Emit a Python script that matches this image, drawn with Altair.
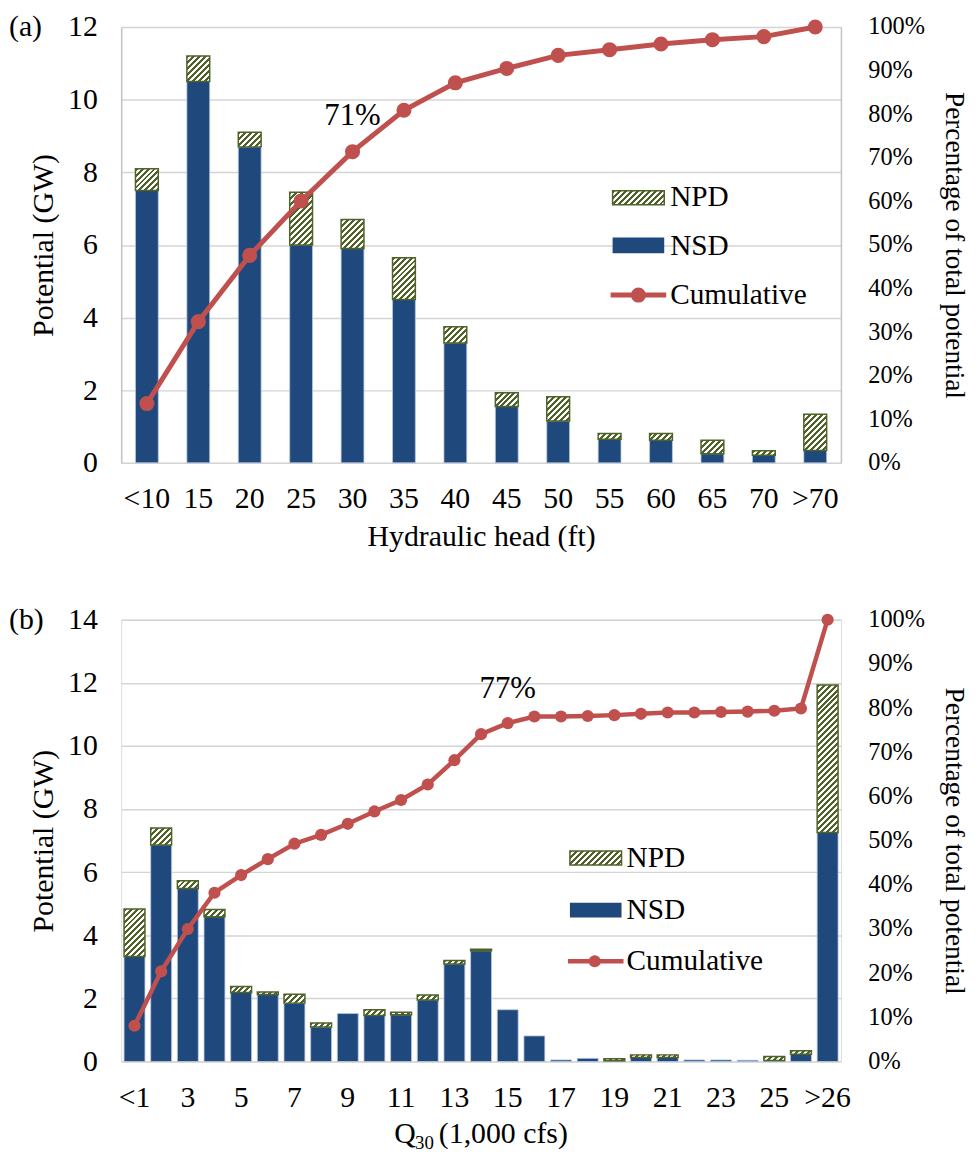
import altair as alt
import pandas as pd

FONT = "Liberation Serif"
BLUE = "#1f497d"
GREEN = "#4f6228"
RED = "#c0504d"
GRID = "#d4d4d4"
FRAME = "#c4c4c4"

# ---------------- data: panel (a) hydraulic head ----------------
head_cats = ["<10", "15", "20", "25", "30", "35", "40", "45", "50", "55", "60", "65", "70", ">70"]
head_nsd = [7.5, 10.5, 8.7, 6.0, 5.9, 4.5, 3.3, 1.55, 1.15, 0.65, 0.62, 0.25, 0.21, 0.34]
head_total = [8.1, 11.2, 9.1, 7.45, 6.7, 5.65, 3.75, 1.93, 1.82, 0.81, 0.81, 0.62, 0.33, 1.34]
head_cum = [13.6, 32.4, 47.6, 60.1, 71.4, 80.9, 87.2, 90.5, 93.5, 94.8, 96.1, 97.1, 97.8, 100.0]

# ---------------- data: panel (b) Q30 flow ----------------
flow_cats = ["<1", "2", "3", "4", "5", "6", "7", "8", "9", "10", "11", "12", "13", "14",
             "15", "16", "17", "18", "19", "20", "21", "22", "23", "24", "25", "26", ">26"]
flow_nsd = [3.33, 6.86, 5.48, 4.59, 2.19, 2.12, 1.85, 1.09, 1.52, 1.46, 1.48, 1.95, 3.09, 3.51,
            1.64, 0.81, 0.05, 0.10, 0.02, 0.13, 0.13, 0.05, 0.05, 0.04, 0.03, 0.23, 7.26]
flow_total = [4.83, 7.40, 5.73, 4.82, 2.38, 2.20, 2.13, 1.22, 1.52, 1.64, 1.56, 2.11, 3.20, 3.56,
              1.64, 0.81, 0.05, 0.10, 0.09, 0.21, 0.21, 0.05, 0.05, 0.04, 0.16, 0.34, 11.93]
flow_cum = [8.1, 20.4, 30.0, 38.2, 42.2, 45.8, 49.3, 51.3, 53.8, 56.6, 59.2, 62.7, 68.2, 74.1,
            76.6, 78.1, 78.1, 78.2, 78.4, 78.7, 79.0, 79.0, 79.1, 79.2, 79.4, 79.9, 100.0]
flow_ticks = ["<1", "3", "5", "7", "9", "11", "13", "15", "17", "19", "21", "23", "25", ">26"]

W = 725
TICK = 30       # left / bottom tick labels
TITLE = 30      # left / bottom titles
RTICK = 24.5    # right-axis tick labels
RTITLE = 27.5   # right-axis title
LEG = 29.5


def hatch(w, h, period=6.0, green_frac=0.5):
    w = max(w, 0.5)
    h = max(h, 0.5)
    c = (w + h) / (w * w + h * h)
    n = max((w + h) / period, 1.0)
    stops = []
    k = 0
    while k < n:
        a = min(k / n, 1.0)
        b = min((k + green_frac) / n, 1.0)
        d = min((k + 1) / n, 1.0)
        stops.extend([
            {"offset": a, "color": GREEN},
            {"offset": b, "color": GREEN},
            {"offset": b, "color": "#ffffff"},
            {"offset": d, "color": "#ffffff"},
        ])
        k += 1
    return {"gradient": "linear", "x1": 0, "y1": 0, "x2": c * w, "y2": c * h, "stops": stops}


one = pd.DataFrame({"k": [0]})


def vtext(txt, x, y, size=LEG, align="left", baseline="middle"):
    return alt.Chart(one).mark_text(
        font=FONT, fontSize=size, align=align, baseline=baseline, color="black"
    ).encode(x=alt.value(x), y=alt.value(y), text=alt.value(txt))


def panel(cats, nsd, total, cum, ymax, H, pin, tag, xtitle, xvalues, frame,
          ann_cat, ann_val, ann_text, ann_dy, leg, line_w, pt_size, right_title, extra=()):
    df = pd.DataFrame({"cat": cats, "nsd": nsd, "total": total, "cum": [v / 100 for v in cum]})
    xscale = alt.Scale(domain=cats, paddingInner=pin, paddingOuter=pin / 2)
    step = W / len(cats)
    bw = step * (1 - pin)

    xaxis_kw = dict(labelAngle=0, ticks=False, tickSize=0, domain=False, labelFont=FONT,
                    labelFontSize=TICK, labelColor="black", labelPadding=21, labelOverlap=False,
                    titleFont=FONT, titleFontSize=TITLE, titleFontWeight="normal",
                    titleColor="black", titlePadding=8, grid=False)
    if xvalues is not None:
        xaxis_kw["values"] = xvalues
    xaxis = alt.Axis(title=xtitle if xtitle else None, **xaxis_kw)

    def xenc():
        return alt.X("cat:N", scale=xscale, axis=xaxis, sort=cats)

    left_axis = alt.Axis(title="Potential (GW)", values=list(range(0, ymax + 1, 2)), grid=True,
                         gridColor=GRID, gridWidth=1.5, domain=frame, domainColor=FRAME,
                         domainWidth=1.5, ticks=False, tickSize=0, labelFont=FONT,
                         labelFontSize=TICK, labelColor="black", labelPadding=24,
                         titleFont=FONT, titleFontSize=TITLE, titleFontWeight="normal",
                         titleColor="black", titlePadding=9)
    right_axis = alt.Axis(title=right_title, orient="right", format=".0%",
                          values=[i / 10 for i in range(11)], grid=False, domain=frame,
                          domainColor=FRAME, domainWidth=1.5, ticks=False, tickSize=0,
                          labelFont=FONT, labelFontSize=RTICK, labelColor="black", labelPadding=27,
                          titleFont=FONT, titleFontSize=RTITLE, titleFontWeight="normal",
                          titleColor="black", titlePadding=15)

    yscale = alt.Scale(domain=[0, ymax], nice=False, zero=True)
    nsd_bar = alt.Chart(df).mark_bar(color=BLUE, stroke="#b8c8e0", strokeWidth=0.8).encode(
        x=xenc(), y=alt.Y("nsd:Q", scale=yscale, axis=left_axis))
    npd_bars = []
    for c, a, b in zip(cats, nsd, total):
        d = b - a
        if d <= 0.001:
            continue
        h = d * H / ymax
        npd_bars.append(
            alt.Chart(df).transform_filter(alt.datum.cat == c)
            .mark_bar(fill=hatch(bw, h), stroke=GREEN, strokeWidth=1.5)
            .encode(x=xenc(), y=alt.Y("total:Q", scale=yscale, axis=left_axis), y2="nsd:Q"))
    bars = alt.layer(nsd_bar, *npd_bars)

    cscale = alt.Scale(domain=[0, 1], nice=False, zero=True)
    line = alt.Chart(df).mark_line(
        color=RED, strokeWidth=line_w,
        point=alt.OverlayMarkDef(filled=True, fill=RED, color=RED, size=pt_size, opacity=1)
    ).encode(x=xenc(), y=alt.Y("cum:Q", scale=cscale, axis=right_axis))
    ann_df = pd.DataFrame({"cat": [ann_cat], "cum": [ann_val / 100], "label": [ann_text]})
    ann = alt.Chart(ann_df).mark_text(font=FONT, fontSize=31, dy=ann_dy, baseline="alphabetic",
                                       align="center", color="black").encode(
        x=xenc(), y=alt.Y("cum:Q", scale=cscale, axis=right_axis), text="label:N")
    cumlayer = alt.layer(line, ann)

    sx0, sx1, ny0, ny1, sy0, sy1, ly, lx0, lx1, dotx, tx, tys = leg
    legend = [
        alt.Chart(one).mark_rect(fill=hatch(sx1 - sx0, ny1 - ny0), stroke=GREEN, strokeWidth=1.5)
        .encode(x=alt.value(sx0), x2=alt.value(sx1), y=alt.value(ny0), y2=alt.value(ny1)),
        alt.Chart(one).mark_rect(fill=BLUE).encode(
            x=alt.value(sx0), x2=alt.value(sx1), y=alt.value(sy0), y2=alt.value(sy1)),
        alt.Chart(one).mark_rule(color=RED, strokeWidth=line_w).encode(
            x=alt.value(lx0), x2=alt.value(lx1), y=alt.value(ly)),
        alt.Chart(one).mark_point(filled=True, color=RED, size=pt_size, opacity=1).encode(
            x=alt.value(dotx), y=alt.value(ly)),
        vtext("NPD", tx, tys[0]),
        vtext("NSD", tx, tys[1]),
        vtext("Cumulative", tx, tys[2]),
    ]
    return alt.layer(bars, cumlayer, *legend, vtext(tag, -113, 0, size=30), *extra).resolve_scale(
        y="independent").properties(width=W, height=H)


# legend geometry (pixels inside each plot area)
leg_a = (495, 547, 165, 179, 212, 228, 270, 493, 549, 521, 553, (171, 221, 270))
leg_b = (452, 504, 233, 247, 285, 300, 344, 450, 506, 477, 509, (240, 292, 344))

q_title = [
    vtext("Q", 275, 527, size=TITLE, baseline="alphabetic"),
    vtext("30", 296, 533, size=19, baseline="alphabetic"),
    vtext("(1,000 cfs)", 320, 527, size=TITLE, baseline="alphabetic"),
]

pa = panel(head_cats, head_nsd, head_total, head_cum, 12, 439, 0.556, "(a)", "Hydraulic head (ft)",
           None, True, "30", 71.4, "71%", -27, leg_a, 5, 230,
           "Percentage of total potential")
pb = panel(flow_cats, flow_nsd, flow_total, flow_cum, 14, 445, 0.216, "(b)", None,
           flow_ticks, False, "15", 76.6, "77%", -25, leg_b, 4.5, 150,
           "Percentage of total  potential", extra=q_title)

chart = alt.vconcat(pa, pb, spacing=52).properties(
    padding={"left": 0, "top": -1, "right": 3, "bottom": -6}
).configure_view(stroke=None).configure(font=FONT, background="white")

chart.save("out.html", embed_options={"renderer": "svg", "actions": False})
